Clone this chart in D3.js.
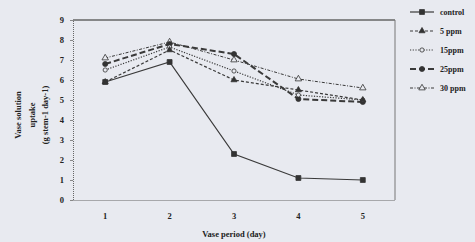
<!DOCTYPE html>
<html>
<head>
<meta charset="utf-8">
<script src="https://cdn.jsdelivr.net/npm/d3@7"></script>
<style>
body{margin:0;background:#e8eaf0}
text{font-family:"Liberation Serif",serif;font-weight:bold;fill:#222}
</style>
</head>
<body>
<div id="chart"></div>
<script>
var svgWidth = 475
var svgHeight = 242
var days = ["1","2","3","4","5"]
var yTicks = [0,1,2,3,4,5,6,7,8,9]
var control = [5.9, 6.9, 2.3, 1.1, 1.0]
var ppm5 = [5.9, 7.5, 6.0, 5.5, 5.0]
var ppm15 = [6.5, 7.65, 6.45, 5.25, 5.0]
var ppm25 = [6.8, 7.8, 7.3, 5.05, 4.9]
var ppm30 = [7.1, 7.9, 7.0, 6.05, 5.6]
var seriesNames = ["control","5 ppm","15ppm","25ppm","30 ppm"]

var series = [
  {name:seriesNames[0], values:control, dash:null, marker:"square", width:1.2},
  {name:seriesNames[1], values:ppm5, dash:"3,2", marker:"triangle", width:1.2},
  {name:seriesNames[2], values:ppm15, dash:"1.2,1.5", marker:"circleOpen", width:1.2},
  {name:seriesNames[3], values:ppm25, dash:"6,3", marker:"diamond", width:2},
  {name:seriesNames[4], values:ppm30, dash:"3,1.5,1,1.5", marker:"triangleOpen", width:1}
]

var svg = d3.select("#chart").append("svg").attr("width",svgWidth).attr("height",svgHeight)
var x = d3.scaleBand().domain(days).range([73,395])
var y = d3.scaleLinear().domain([0,9]).range([200,20])

// plot frame
svg.append("line").attr("x1",73).attr("x2",395).attr("y1",20).attr("y2",20)
   .style("stroke","#666").style("stroke-width",1.5)
svg.append("line").attr("x1",395).attr("x2",395).attr("y1",20).attr("y2",200)
   .style("stroke","#777").style("stroke-width",1)

var yAxis = svg.append("g").attr("transform","translate(73,0)")
   .call(d3.axisLeft(y).tickValues(yTicks).tickSize(3).tickPadding(6))
var xAxis = svg.append("g").attr("transform","translate(0,200)")
   .call(d3.axisBottom(x).tickSize(0).tickPadding(13))
svg.selectAll(".domain").style("stroke","#666").style("stroke-dasharray","1,1")
svg.selectAll(".tick line").style("stroke","#888")
svg.selectAll(".tick text").style("font-family","Liberation Serif").style("font-weight","bold").style("font-size","8.5px").style("fill","#222")

var line = d3.line()
   .x(function(d,i){ return x(days[i]) + x.bandwidth()/2 })
   .y(function(d){ return y(d) })

var sym = {
  square: d3.symbol().type(d3.symbolSquare).size(24),
  triangle: d3.symbol().type(d3.symbolTriangle).size(16),
  circleOpen: d3.symbol().type(d3.symbolCircle).size(14),
  diamond: d3.symbol().type(d3.symbolCircle).size(20),
  triangleOpen: d3.symbol().type(d3.symbolTriangle).size(18)
}
function drawMarker(g, m){
  var open = (m=="circleOpen"||m=="triangleOpen")
  g.append("path").attr("d",sym[m]())
   .style("fill", open ? "#e8eaf0" : "#333")
   .style("stroke","#333").style("stroke-width",0.8)
}

series.forEach(function(s){
  svg.append("path").datum(s.values).attr("d",line)
     .style("fill","none").style("stroke","#3a3a3a")
     .style("stroke-width",s.width)
     .style("stroke-dasharray",s.dash)
})
series.slice().reverse().forEach(function(s){
  s.values.forEach(function(v,i){
    var g = svg.append("g").attr("transform","translate("+(x(days[i])+x.bandwidth()/2)+","+y(v)+")")
    drawMarker(g, s.marker)
  })
})

// legend
var legend = svg.selectAll(".legend").data(series).enter().append("g")
   .attr("transform",function(d,i){ return "translate(410,"+(12+i*19)+")" })
legend.append("line").attr("x1",0).attr("x2",24).attr("y1",0).attr("y2",0)
   .style("stroke","#3a3a3a").style("stroke-width",function(d){ return d.width })
   .style("stroke-dasharray",function(d){ return d.dash })
legend.each(function(d){
  var g = d3.select(this).append("g").attr("transform","translate(12,0)")
  drawMarker(g, d.marker)
})
legend.append("text").attr("x",30).attr("y",3).style("font-size","8px")
   .text(function(d){ return d.name })

// axis titles
svg.append("text").attr("x",234).attr("y",237).attr("text-anchor","middle")
   .style("font-size","8.5px").text("Vase period (day)")
var yl = svg.append("text").attr("transform","translate(0,115) rotate(-90)")
   .attr("text-anchor","middle").style("font-size","8.5px")
yl.append("tspan").attr("x",0).attr("y",21).text("Vase solution")
yl.append("tspan").attr("x",0).attr("y",35).text("uptake")
yl.append("tspan").attr("x",0).attr("y",48).text("(g stem-1 day-1)")
</script>
</body>
</html>
